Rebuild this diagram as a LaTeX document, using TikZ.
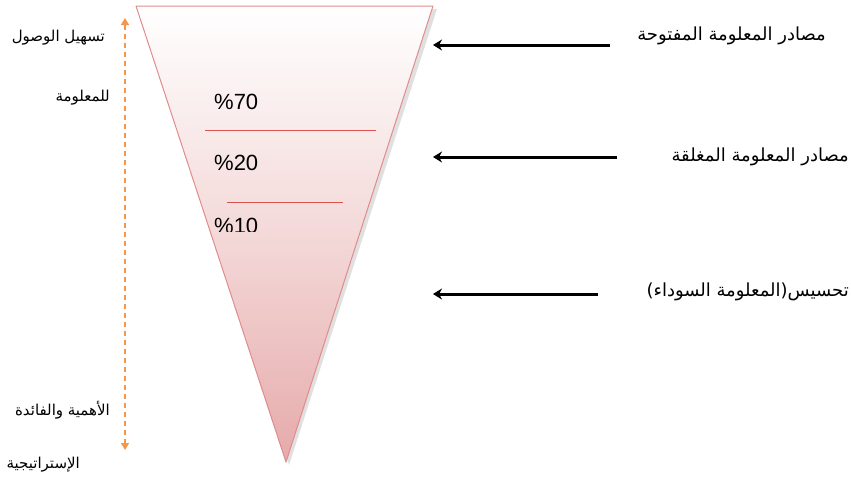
\documentclass[tikz,border=0pt]{standalone}
\usepackage{fontspec}
\setmainfont{Liberation Sans}
\newfontfamily\arabicfont[Script=Arabic]{DejaVu Sans}
\TeXXeTstate=1
\usetikzlibrary{arrows.meta}
\definecolor{funnelpink}{HTML}{E6AAAA}
\definecolor{funnelborder}{HTML}{E08C8C}
\definecolor{sepred}{HTML}{D9534F}
\definecolor{dashorange}{HTML}{F79646}
\tikzset{
  artxt/.style={font=\arabicfont\fontsize{18}{20}\selectfont, anchor=east, inner sep=0pt},
  leftar/.style={font=\arabicfont\fontsize{15}{17}\selectfont, anchor=east, inner sep=0pt},
  pcttxt/.style={font=\fontsize{22}{24}\selectfont, anchor=west, inner sep=0pt},
  bigarrow/.style={line width=3pt, -{Stealth[length=9pt,width=11pt]}},
  sepline/.style={sepred, line width=0.8pt},
  orangearrow/.style={dashorange, line width=1.6pt, dash pattern=on 5pt off 4pt, {Triangle[length=7pt,width=8pt]}-{Triangle[length=7pt,width=8pt]}}
}
\begin{document}
\begin{tikzpicture}[x=1pt,y=-1pt]
\useasboundingbox (0,0) rectangle (851,477);
% shadow
\fill[black!12] (139,9) -- (437,9) -- (289,465) -- cycle;
% funnel
\shade[top color=white, bottom color=funnelpink, middle color=funnelpink!45] (136,6) -- (433,6) -- (286,462) -- cycle;
\draw[funnelborder, line width=1pt, line join=round] (136,6) -- (433,6) -- (286,462) -- cycle;
% separators
\coordinate (s1a) at (205,130); \coordinate (s1b) at (376,130);
\coordinate (s2a) at (227,202); \coordinate (s2b) at (343,202);
\draw[sepline] (s1a) -- (s1b);
\draw[sepline] (s2a) -- (s2b);
% percentages
\node[pcttxt] (p70) at (214,102) {\%70};
\node[pcttxt] (p20) at (214,163) {\%20};
\begin{scope}
\clip (150,205) rectangle (400,231.5);
\node[pcttxt] (p10) at (214,226) {\%10};
\end{scope}
% right labels
\node[artxt] (r1) at (826,36) {\beginR مصادر المعلومة المفتوحة\endR};
\node[artxt] (r2) at (849,157) {\beginR مصادر المعلومة المغلقة\endR};
\node[artxt] (r3) at (849,292) {\beginR تحسيس(المعلومة السوداء)\endR};
% arrows
\coordinate (a1s) at (610,45); \coordinate (a1e) at (433,45);
\coordinate (a2s) at (617,157); \coordinate (a2e) at (433,157);
\coordinate (a3s) at (598,294); \coordinate (a3e) at (433,294);
\draw[bigarrow] (a1s) -- (a1e);
\draw[bigarrow] (a2s) -- (a2e);
\draw[bigarrow] (a3s) -- (a3e);
% left labels
\node[leftar] (l1) at (105,38) {\beginR تسهيل الوصول\endR};
\node[leftar] (l2) at (110,98) {\beginR للمعلومة\endR};
\node[leftar] (l3) at (110,410) {\beginR الأهمية والفائدة\endR};
\node[leftar] (l4) at (80,465) {\beginR الإستراتيجية\endR};
% orange dashed arrow
\coordinate (o1) at (125,18); \coordinate (o2) at (125,450);
\draw[orangearrow] (o1) -- (o2);
\end{tikzpicture}
\end{document}
